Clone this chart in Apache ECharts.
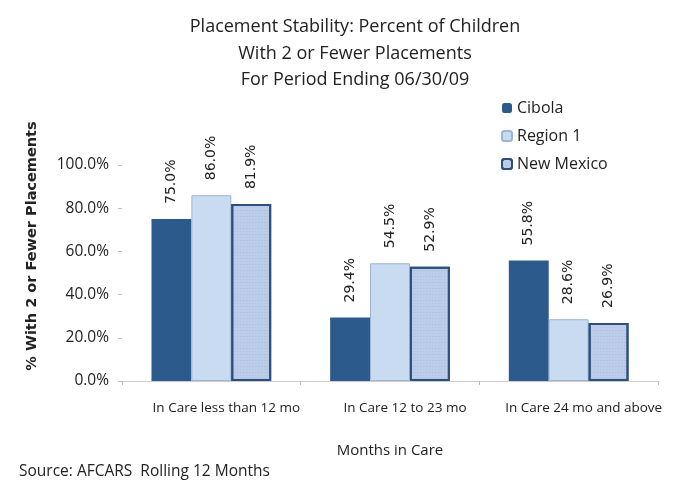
<!DOCTYPE html>
<html>
<head>
<meta charset="utf-8">
<script src="https://cdn.jsdelivr.net/npm/echarts@6/dist/echarts.min.js"></script>
<style>
  html, body { margin: 0; padding: 0; background: #fff; }
  #chart { width: 693px; height: 480px; }
</style>
</head>
<body>
<div id="chart"></div>
<script>
// data
var categories = ['In Care less than 12 mo', 'In Care 12 to 23 mo', 'In Care 24 mo and above']
var cibola = [75.0, 29.4, 55.8]
var region1 = [86.0, 54.5, 28.6]
var newMexico = [81.9, 52.9, 26.9]
var yTicks = [0, 20, 40, 60, 80, 100]

var font = '"Open Sans", Lato, sans-serif'
var textColor = '#222'

var chart = echarts.init(document.getElementById('chart'))

var barLabel = {
  show: true,
  position: 'top',
  rotate: 90,
  align: 'left',
  verticalAlign: 'middle',
  distance: 15,
  color: textColor,
  fontFamily: 'DejaVu Sans',
  fontSize: 14,
  formatter: function (p) { return p.value.toFixed(1) + '%' }
}

chart.setOption({
  backgroundColor: '#fff',
  animation: false,
  title: [
    {
      text: 'Placement Stability: Percent of Children\nWith 2 or Fewer Placements\nFor Period Ending 06/30/09',
      left: 350,
      textAlign: 'center',
      top: 9,
      textStyle: {
        color: textColor,
        fontFamily: font,
        fontSize: 18,
        fontWeight: 'normal',
        lineHeight: 26.5
      }
    },
    {
      text: 'Source: AFCARS  Rolling 12 Months',
      left: 14,
      top: 459,
      textStyle: {
        color: textColor,
        fontFamily: font,
        fontSize: 15.5,
        fontWeight: 'normal'
      }
    }
  ],
  legend: {
    data: ['Cibola', 'Region 1', 'New Mexico'],
    orient: 'vertical',
    left: 496,
    top: 95,
    itemWidth: 10,
    itemHeight: 10,
    itemGap: 12,
    textStyle: {
      color: textColor,
      fontFamily: font,
      fontSize: 16
    }
  },
  grid: {
    left: 122,
    right: 35,
    top: 165,
    bottom: 99
  },
  xAxis: {
    type: 'category',
    data: categories,
    name: 'Months in Care',
    nameLocation: 'middle',
    nameGap: 62,
    nameTextStyle: {
      color: textColor,
      fontFamily: font,
      fontSize: 15
    },
    axisLine: { lineStyle: { color: '#ccc' } },
    axisTick: { show: true, length: 4, lineStyle: { color: '#bbb' } },
    axisLabel: {
      interval: 0,
      color: textColor,
      fontFamily: font,
      fontSize: 13.5,
      margin: 20,
      padding: [0, 0, 0, 30]
    }
  },
  yAxis: {
    type: 'value',
    min: 0,
    max: 100,
    interval: 20,
    name: '% With 2 or Fewer Placements',
    nameLocation: 'middle',
    nameGap: 82,
    nameTextStyle: {
      color: textColor,
      fontFamily: 'DejaVu Sans',
      fontSize: 14.5,
      fontWeight: 'bold',
      padding: [0, 0, 0, 54]
    },
    axisLine: { show: false },
    axisTick: { show: true, length: 4, lineStyle: { color: '#bbb' } },
    splitLine: { show: false },
    axisLabel: {
      color: textColor,
      fontFamily: font,
      fontSize: 15.5,
      margin: 13,
      formatter: function (v) { return yTicks.indexOf(v) >= 0 ? v.toFixed(1) + '%' : '' }
    }
  },
  series: [
    {
      name: 'Cibola',
      type: 'bar',
      data: cibola,
      barGap: '0%',
      barCategoryGap: '33%',
      itemStyle: { color: '#2c5a8c' },
      label: barLabel
    },
    {
      name: 'Region 1',
      type: 'bar',
      data: region1,
      itemStyle: { color: '#c9dbf1', borderColor: '#9cb4d6', borderWidth: 1 },
      label: barLabel
    },
    {
      name: 'New Mexico',
      type: 'bar',
      data: newMexico,
      itemStyle: {
        color: '#bccde9',
        borderColor: '#2e4f7e',
        borderWidth: 2,
        decal: {
          symbol: 'rect',
          symbolSize: 0.6,
          dashArrayX: [[1, 2], [2, 1]],
          dashArrayY: [1, 2],
          rotation: 0,
          color: 'rgba(80,110,170,0.35)'
        }
      },
      label: barLabel
    }
  ]
})
</script>
</body>
</html>
